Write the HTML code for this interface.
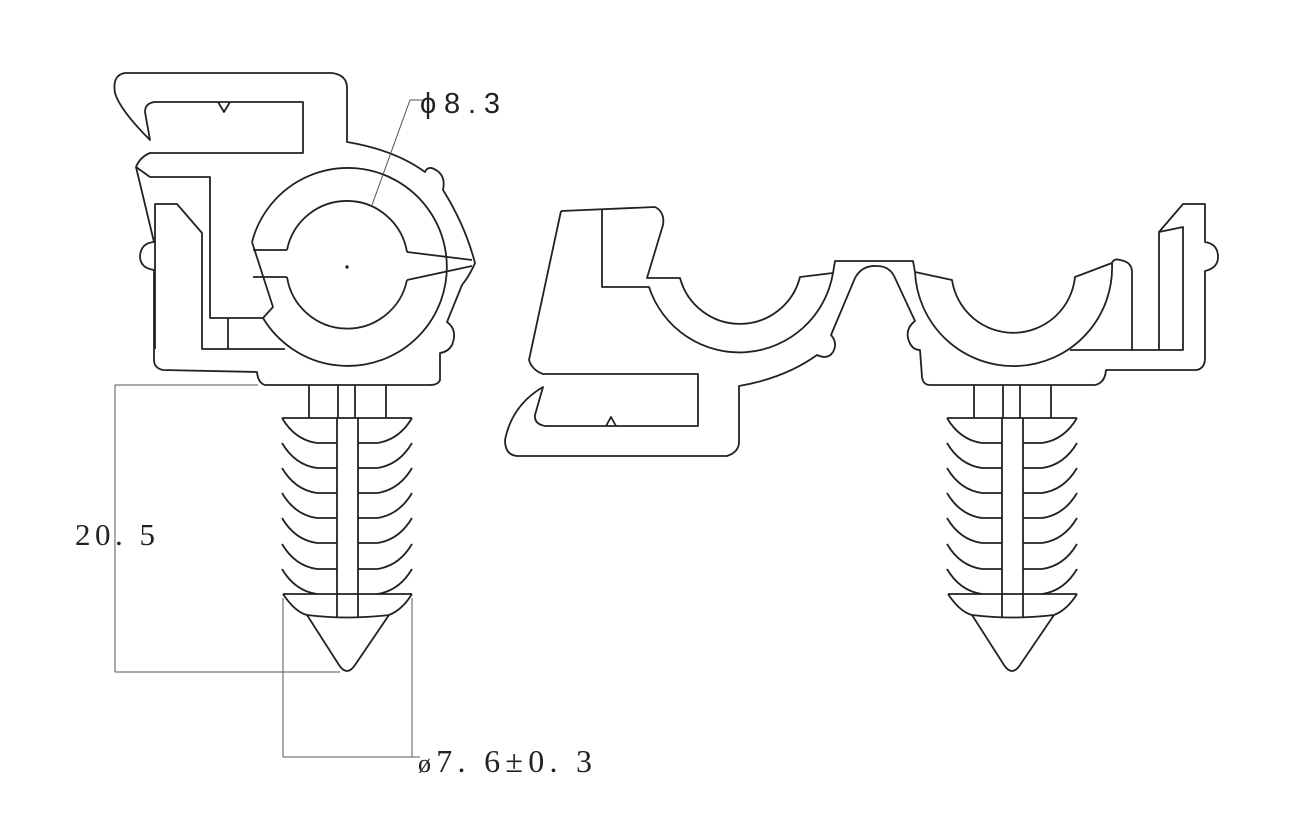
<!DOCTYPE html>
<html><head><meta charset="utf-8"><style>
html,body{margin:0;padding:0;background:#fff;}
svg{display:block}
</style></head><body>
<svg width="1305" height="838" viewBox="0 0 1305 838" xmlns="http://www.w3.org/2000/svg">
<defs>
 <path id="rib" fill="none" stroke="#222" stroke-width="1.8" d="M-65 0Q-52 22-30 25L-10 25M65 0Q52 22 30 25L11 25"/>
<g id="fir" fill="none" stroke="#222" stroke-width="1.8">
 <path d="M-38 385V418M-9 385V418M8 385V418M39 385V418"/>
 <path d="M-10 418V617M11 418V617"/>
 <path d="M-65 418H65"/>
 <use href="#rib" y="418"/><use href="#rib" y="443"/><use href="#rib" y="468"/>
 <use href="#rib" y="493"/><use href="#rib" y="518"/><use href="#rib" y="544"/>
 <path d="M-65 569Q-52 591-30 594M65 569Q52 591 30 594"/>
 <path d="M-64 594H65M-64 594Q-52 612-40 615Q0 620 42 615Q55 610 65 594"/>
 <path d="M-40 615L-8 665Q0 677 8 665L42 615"/>
</g>
</defs>

<g fill="none" stroke="#222" stroke-width="1.8" stroke-linejoin="round">
 <path d="M150 140Q120 110 115 93Q112 75 125 73L332 73Q347 75 347 88L347 142
  Q395 150 425 172Q428 165 436 170Q446 176 443 190Q465 225 475 263Q470 275 462 285L447 322
  Q458 330 452 345Q448 352 440 353L440 380Q438 385 430 385L265 385Q258 383 257 372L163 370
  Q154 368 154 360L154 270Q140 268 140 256Q141 243 154 242L136 167Q140 157 150 153L303 153L303 102L155 102Q145 103 145 112L150 140Z"/>
 <path d="M218 102L224 112L230 102"/>
 <path d="M136 167L150 177L210 177L210 318L263 318"/>
 <path d="M155 349L155 204L177 204L202 233L202 349L285 349"/>
 <path d="M228 318V349"/>
 <path d="M252 242A99 99 0 1 1 263 318"/>
 <path d="M252 242L273 307L263 318"/>
 <path d="M253 250H287M253 277H287"/>
 <path d="M287 250A61 61 0 0 1 407 252M287 277A61 61 0 0 0 407 280"/>
 <path d="M407 252L472 260M407 280L472 266"/>
 <circle cx="347" cy="267" r="0.8"/>

 <path d="M561 211L655 207Q665 212 663 225L647 278L680 278A62 62 0 0 0 800 277L833 273L835 261L913 261L915 272L952 280A62 62 0 0 0 1075 277L1112 263"/>
 <path d="M602 210V287H649A95 95 0 0 0 833 273"/>
 <path d="M915 272A97 97 0 0 0 1112 263"/>
 <path d="M561 211L529 360Q532 370 543 374L698 374V426L545 426Q534 424 535 415L543 387Q512 405 505 440Q505 455 517 456L727 456Q739 452 739 442L739 386Q785 378 817 355Q828 360 833 352Q838 343 831 335L855 278Q862 265 877 266Q890 266 895 278L915 321Q906 328 908 338Q911 350 920 350L922 377Q923 385 930 385L1095 385Q1105 383 1106 370L1197 370Q1205 368 1205 358L1205 271Q1218 268 1218 257Q1218 244 1205 242L1205 204L1183 204L1159 232L1159 350"/>
 <path d="M1159 232L1183 227L1183 350L1070 350"/>
 <path d="M1112 263Q1114 258 1120 260Q1132 262 1132 272L1132 350"/>
 <path d="M606 426L611 417L616 426"/>
</g>

<use href="#fir" x="347"/>
<use href="#fir" x="1012"/>

<g fill="none" stroke="#555" stroke-width="1">
 <path d="M115 385V672M115 385H258M115 672H340"/>
 <path d="M283 598V757M412 598V757M283 757H420"/>
 <path d="M372 205L410 100H422"/>
</g>
<g fill="#222">
 <text x="75" y="545" font-family="Liberation Serif, serif" font-size="31" textLength="80" lengthAdjust="spacing">20. 5</text>
 <text x="418" y="772" font-family="Liberation Serif, serif" font-size="32" textLength="174" lengthAdjust="spacing"><tspan font-size="26">ø</tspan>7. 6±0. 3</text>
 <text x="420" y="113" font-family="Liberation Sans, sans-serif" font-size="29" textLength="80" lengthAdjust="spacing">ϕ8.3</text>
</g>
</svg>
</body></html>
